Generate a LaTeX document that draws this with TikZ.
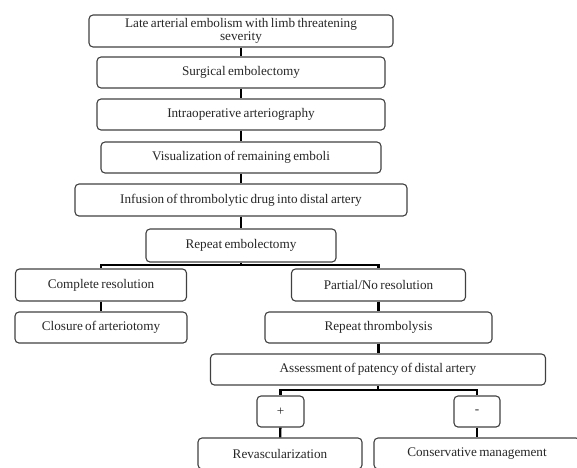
\documentclass[tikz,border=0pt]{standalone}
\usepackage{fontspec}
\setmainfont{Liberation Serif}
\usetikzlibrary{calc}

\newcommand{\boxfont}{\fontsize{13.2}{13.5}\selectfont\spaceskip=0.18em plus 0.05em\relax}

\tikzset{
    stepbox/.style={draw=black!75, line width=1.1pt, rounded corners=4pt, align=center,
        inner sep=0pt, text=black!85, font=\boxfont},
    link/.style={line width=2.4pt, black},
}

\begin{document}
\begin{tikzpicture}[x=1pt, y=-1pt]
        \useasboundingbox (0,0) rectangle (577,467);
        \clip (0,0) rectangle (577,467);
        \node[stepbox, minimum width=304pt, minimum height=32pt](late) at (241, 31) {Late arterial embolism with limb threatening\\severity};
        \node[stepbox, minimum width=288pt, minimum height=31pt](surg) at (241, 72.5) {Surgical embolectomy};
        \node[stepbox, minimum width=288pt, minimum height=31pt](intra) at (241, 114.5) {Intraoperative arteriography};
        \node[stepbox, minimum width=280pt, minimum height=31pt](vis) at (241, 157.5) {Visualization of remaining emboli};
        \node[stepbox, minimum width=332pt, minimum height=32pt](inf) at (241, 200) {Infusion of thrombolytic drug into distal artery};
        \node[stepbox, minimum width=190pt, minimum height=33pt](rep) at (241, 245.5) {Repeat embolectomy};
        \node[stepbox, minimum width=171pt, minimum height=32pt](comp) at (101, 285) {Complete resolution};
        \node[stepbox, minimum width=172pt, minimum height=31pt](clos) at (101, 327.5) {Closure of arteriotomy};
        \node[stepbox, minimum width=174pt, minimum height=32pt](part) at (378.5, 285) {Partial/No resolution};
        \node[stepbox, minimum width=227pt, minimum height=31pt](thromb) at (378.5, 327.5) {Repeat thrombolysis};
        \node[stepbox, minimum width=335pt, minimum height=31pt](assess) at (378, 369.5) {Assessment of patency of distal artery};
        \node[stepbox, minimum width=47pt, minimum height=31pt](plus) at (280.5, 411.5) {+};
        \node[stepbox, minimum width=46pt, minimum height=31pt](minus) at (477, 411.5) {-};
        \node[stepbox, minimum width=164pt, minimum height=31pt](revasc) at (280, 453.5) {Revascularization};
        \node[stepbox, minimum width=206pt, minimum height=31pt](cons) at (477, 453.5) {Conservative management};
        \coordinate (split1) at (241, 265);
        \coordinate (split2) at (378, 390);
        \draw[link] (late) -- (surg);
        \draw[link] (surg) -- (intra);
        \draw[link] (intra) -- (vis);
        \draw[link] (vis) -- (inf);
        \draw[link] (inf) -- (rep);
        \draw[link] (rep.south) -- (split1) -| (comp.north);
        \draw[link] (split1) -| (part.north);
        \draw[link] (comp) -- (clos);
        \draw[link] (part) -- (thromb);
        \draw[link] (thromb.south) -- (thromb.south |- assess.north);
        \draw[link] (assess.south) -- (split2) -| (plus.north);
        \draw[link] (split2) -| (minus.north);
        \draw[link] (plus) -- (revasc);
        \draw[link] (minus) -- (cons);
    \end{tikzpicture}
\end{document}
